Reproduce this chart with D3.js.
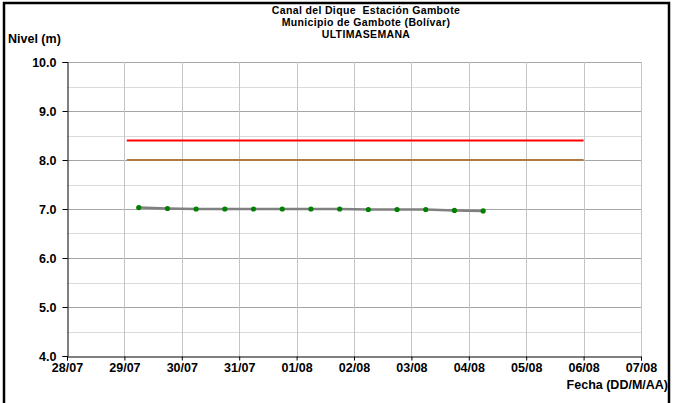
<!DOCTYPE html>
<html><head><meta charset="utf-8">
<script src="https://cdn.jsdelivr.net/npm/d3@7"></script>
<style>
html,body{margin:0;padding:0;background:#fff;}
svg{display:block;font-family:"Liberation Sans",Arial,sans-serif;}
</style></head>
<body>
<svg id="chart" width="674" height="403"></svg>
<script>
// ---- data ----
const titleLines = ["Canal del Dique\u00a0 Estación Gambote", "Municipio de Gambote (Bolívar)", "ULTIMASEMANA"];
const yTitle = "Nivel (m)";
const xTitle = "Fecha (DD/M/AA)";
const times = ["2019-07-29T06:00","2019-07-29T18:00","2019-07-30T06:00","2019-07-30T18:00",
  "2019-07-31T06:00","2019-07-31T18:00","2019-08-01T06:00","2019-08-01T18:00",
  "2019-08-02T06:00","2019-08-02T18:00","2019-08-03T06:00","2019-08-03T18:00","2019-08-04T06:00"];
const levels = [7.03, 7.01, 7.00, 7.00, 7.00, 7.00, 7.00, 7.00, 6.99, 6.99, 6.99, 6.97, 6.96];
const alertStart = "2019-07-29T01:00";
const alertEnd = "2019-08-06T00:00";
const redLevel = 8.4;
const brownLevel = 8.0;
const xTickDates = ["2019-07-28","2019-07-29","2019-07-30","2019-07-31","2019-08-01","2019-08-02",
  "2019-08-03","2019-08-04","2019-08-05","2019-08-06","2019-08-07"];
const xTickLabels = ["28/07","29/07","30/07","31/07","01/08","02/08","03/08","04/08","05/08","06/08","07/08"];
const yTicks = [4,5,6,7,8,9,10];
const yMinor = [4.5,5.5,6.5,7.5,8.5,9.5];

// ---- layout ----
const parse = d3.utcParse("%Y-%m-%dT%H:%M");
const parseDay = d3.utcParse("%Y-%m-%d");
const svg = d3.select("#chart");
const L = 67, R = 641, T = 62, B = 356;
const x = d3.scaleUtc().domain([parseDay(xTickDates[0]), parseDay(xTickDates[xTickDates.length-1])]).range([L, R]);
const y = d3.scaleLinear().domain([4, 10]).range([B, T]);
const FONT = "Liberation Sans, Arial, sans-serif";

// frame
svg.append("rect").attr("x", 4).attr("y", 3).attr("width", 665).attr("height", 420)
  .attr("fill", "none").attr("stroke", "#000").attr("stroke-width", 2.5);

// grid
const g = svg.append("g");
g.selectAll(".ymin").data(yMinor).join("line")
  .attr("x1", L).attr("x2", R).attr("y1", d => Math.round(y(d)) + 0.5).attr("y2", d => Math.round(y(d)) + 0.5)
  .attr("stroke", "#dadada").attr("stroke-width", 1);
g.selectAll(".ymaj").data(yTicks.slice(1)).join("line")
  .attr("x1", L).attr("x2", R).attr("y1", d => Math.round(y(d)) + 0.5).attr("y2", d => Math.round(y(d)) + 0.5)
  .attr("stroke", "#a6a6a6").attr("stroke-width", 1);
g.selectAll(".xg").data(xTickDates.slice(1)).join("line")
  .attr("x1", d => Math.round(x(parseDay(d))) + 0.5).attr("x2", d => Math.round(x(parseDay(d))) + 0.5)
  .attr("y1", T).attr("y2", B).attr("stroke", "#c4c4c4").attr("stroke-width", 1);

// axes
const yAxis = d3.axisLeft(y).tickValues(yTicks).tickFormat(d3.format(".1f")).tickSize(5).tickPadding(6);
const ya = svg.append("g").attr("transform", `translate(${L + 0.5},0)`).call(yAxis);
const xAxis = d3.axisBottom(x).tickValues(xTickDates.map(parseDay))
  .tickFormat((d, i) => xTickLabels[i]).tickSize(4).tickPadding(3);
const xa = svg.append("g").attr("transform", `translate(0,${B + 0.5})`).call(xAxis);
[ya, xa].forEach(a => {
  a.select(".domain").attr("stroke", "#000");
  a.selectAll(".tick line").attr("stroke", "#000");
  a.selectAll("text").attr("font-family", FONT)
    .attr("font-size", 12.5).attr("font-weight", "bold").attr("fill", "#000");
});

// reference lines
svg.append("line").attr("x1", x(parse(alertStart))).attr("x2", x(parse(alertEnd)))
  .attr("y1", y(brownLevel)).attr("y2", y(brownLevel)).attr("stroke", "#b07a45").attr("stroke-width", 2);
svg.append("line").attr("x1", x(parse(alertStart))).attr("x2", x(parse(alertEnd)))
  .attr("y1", y(redLevel)).attr("y2", y(redLevel)).attr("stroke", "#ff0000").attr("stroke-width", 2);

// series
const pts = times.map((t, i) => ({t: parse(t), v: levels[i]}));
svg.append("path").datum(pts)
  .attr("d", d3.line().x(d => x(d.t)).y(d => y(d.v)))
  .attr("fill", "none").attr("stroke", "#808080").attr("stroke-width", 2.5);
svg.selectAll(".pt").data(pts).join("circle")
  .attr("cx", d => x(d.t)).attr("cy", d => y(d.v)).attr("r", 2.6).attr("fill", "#008000");

// titles
const tt = svg.append("g").attr("font-family", FONT).attr("font-size", 10.5).attr("font-weight", "bold")
  .attr("letter-spacing", 0.35).attr("text-anchor", "middle");
titleLines.forEach((s, i) => tt.append("text").attr("x", 366).attr("y", 14 + i * 12).text(s));
svg.append("text").attr("x", 8).attr("y", 43).attr("font-family", FONT).attr("font-size", 12.5).attr("font-weight", "bold").text(yTitle);
svg.append("text").attr("x", 668).attr("y", 389).attr("font-family", FONT).attr("font-size", 12.5).attr("font-weight", "bold")
  .attr("text-anchor", "end").text(xTitle);
</script>
</body></html>
